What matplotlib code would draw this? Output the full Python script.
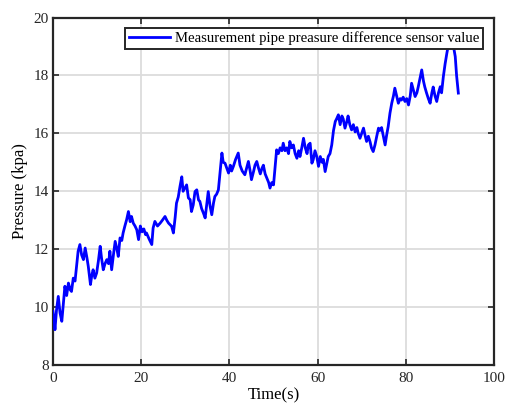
import matplotlib
matplotlib.use("Agg")
import matplotlib.pyplot as plt

time_s = [0.0, 0.3, 0.45, 0.8, 1.2, 1.6, 2.0, 2.4, 2.7, 3.1, 3.5, 3.9, 4.2, 4.6, 5.0, 5.4,
          5.7, 6.1, 6.5, 6.9, 7.3, 7.7, 8.0, 8.5, 8.8, 9.1, 9.5, 9.9, 10.3, 10.7, 11.0,
          11.4, 11.8, 12.2, 12.6, 12.9, 13.3, 13.7, 14.1, 14.5, 14.8, 15.2, 15.6, 15.9,
          16.3, 16.7, 17.1, 17.5, 17.8, 18.2, 18.6, 19.0, 19.4, 19.8, 20.2, 20.6, 21.0,
          21.2, 21.8, 22.4, 22.7, 23.1, 23.7, 24.3, 24.8, 25.4, 25.8, 26.2, 26.9, 27.3,
          27.7, 28.0, 28.4, 28.8, 29.2, 29.5, 29.9, 30.3, 30.7, 31.1, 31.4, 31.8, 32.2,
          32.6, 33.0, 33.3, 33.7, 34.1, 34.5, 34.9, 35.2, 35.6, 36.0, 36.4, 36.7, 37.1,
          37.5, 37.9, 38.3, 38.6, 39.0, 39.4, 39.8, 40.2, 40.5, 40.9, 41.4, 42.0, 42.4,
          42.9, 43.5, 43.9, 44.3, 44.7, 45.0, 45.5, 45.8, 46.2, 46.6, 47.0, 47.4, 47.7,
          48.1, 48.5, 48.9, 49.2, 49.6, 50.0, 50.4, 50.7, 51.1, 51.5, 51.9, 52.2, 52.6,
          53.0, 53.4, 53.7, 54.1, 54.5, 54.9, 55.3, 55.7, 56.0, 56.4, 56.8, 57.2, 57.6,
          57.9, 58.3, 58.7, 59.0, 59.4, 59.8, 60.2, 60.6, 61.0, 61.3, 61.7, 62.0, 62.4,
          62.8, 63.2, 63.6, 64.0, 64.3, 64.7, 65.1, 65.5, 65.8, 66.2, 66.6, 66.9, 67.3,
          67.7, 68.1, 68.5, 68.9, 69.2, 69.6, 70.0, 70.4, 70.8, 71.1, 71.5, 71.9, 72.2,
          72.6, 73.0, 73.4, 73.8, 74.1, 74.5, 74.9, 75.3, 75.6, 76.0, 76.4, 76.8, 77.2,
          77.5, 77.9, 78.3, 78.7, 79.0, 79.4, 79.8, 80.2, 80.6, 81.0, 81.3, 81.7, 82.1,
          82.5, 82.8, 83.2, 83.6, 84.0, 84.3, 84.7, 85.1, 85.5, 85.9, 86.2, 86.6, 87.0,
          87.4, 87.8, 88.1, 88.5, 88.9, 89.3, 89.7, 90.1, 90.5, 90.8, 91.2, 91.5, 91.9]
pressure = [9.85, 9.5, 9.22, 9.9, 10.37, 9.8, 9.51, 10.2, 10.72, 10.4, 10.83, 10.6, 10.54,
            11.0, 10.9, 11.5, 11.93, 12.16, 11.8, 11.64, 12.04, 11.7, 11.41, 10.78, 11.1,
            11.29, 11.0, 11.18, 11.6, 12.1, 11.7, 11.29, 11.5, 11.64, 11.5, 11.93, 11.29,
            11.8, 12.27, 12.0, 11.75, 12.39, 12.3, 12.56, 12.8, 13.02, 13.3, 12.95, 13.13,
            12.9, 12.8, 12.67, 12.33, 12.8, 12.6, 12.7, 12.5, 12.56, 12.35, 12.16, 12.73,
            12.96, 12.8, 12.9, 13.0, 13.13, 13.0, 12.9, 12.79, 12.56, 13.1, 13.59, 13.8,
            14.17, 14.5, 14.0, 14.11, 14.22, 13.77, 13.71, 13.3, 13.53, 13.99, 14.05, 13.7,
            13.65, 13.4, 13.25, 13.08, 13.6, 13.99, 13.5, 13.19, 13.6, 13.82, 13.9, 14.05,
            14.7, 15.32, 15.0, 14.97, 14.8, 14.63, 14.9, 14.7, 14.86, 15.1, 15.32, 14.9,
            14.7, 14.57, 14.8, 15.03, 14.7, 14.4, 14.7, 14.9, 15.03, 14.8, 14.6, 14.8, 14.9,
            14.6, 14.45, 14.3, 14.11, 14.3, 14.22, 14.9, 15.43, 15.3, 15.5, 15.4, 15.66,
            15.4, 15.5, 15.3, 15.72, 15.5, 15.6, 15.3, 15.14, 15.4, 15.2, 15.5, 15.83, 15.5,
            15.3, 15.6, 15.66, 14.97, 15.09, 15.4, 15.2, 14.86, 15.2, 15.0, 15.1, 14.68,
            14.9, 15.2, 15.3, 15.6, 16.1, 16.41, 16.5, 16.64, 16.3, 16.6, 16.5, 16.18, 16.4,
            16.6, 16.3, 16.12, 16.3, 16.05, 16.2, 16.0, 15.83, 16.0, 16.18, 15.9, 15.72,
            15.9, 15.7, 15.5, 15.37, 15.6, 15.9, 16.18, 16.1, 16.2, 15.9, 15.6, 15.9, 16.24,
            16.7, 17.04, 17.3, 17.56, 17.3, 17.04, 17.2, 17.15, 17.25, 17.1, 17.2, 16.98,
            17.3, 17.73, 17.5, 17.27, 17.4, 17.6, 17.9, 18.19, 17.8, 17.6, 17.39, 17.2,
            17.04, 17.4, 17.6, 17.3, 17.1, 17.4, 17.61, 17.4, 17.96, 18.4, 18.77, 19.1,
            19.3, 19.2, 19.0, 18.65, 18.0, 17.39]
x_ticks = [0, 20, 40, 60, 80, 100]
y_ticks = [8, 10, 12, 14, 16, 18, 20]

plt.rcParams["font.family"] = ["Liberation Serif", "DejaVu Serif"]

fig = plt.figure(figsize=(5.07, 4.12), dpi=100)
ax = fig.add_axes([0.1045, 0.114, 0.870, 0.8435])

ax.plot(time_s, pressure, color="#0000ff", linewidth=2.0,
        label="Measurement pipe preasure difference sensor value", zorder=3)

ax.set_xlim(0, 100)
ax.set_ylim(8, 20)
ax.set_xticks(x_ticks)
ax.set_yticks(y_ticks)
ax.tick_params(direction="in", length=4, width=1.2, top=True, right=True,
               labelsize=11, colors="#262626")
ax.tick_params(axis="x", pad=5)
ax.tick_params(axis="y", pad=3)
ax.grid(True, color="#dcdcdc", linewidth=1.3)
ax.set_axisbelow(True)
for s in ax.spines.values():
    s.set_linewidth(1.6)
    s.set_color("#262626")

ax.set_xlabel("Time(s)", fontsize=12, labelpad=2)
ax.set_ylabel("Pressure (kpa)", fontsize=12, labelpad=4)

leg = ax.legend(loc="upper right", bbox_to_anchor=(0.975, 0.97), borderaxespad=0,
                fancybox=False, framealpha=1, edgecolor="#262626", fontsize=10.6,
                handlelength=2.8, handletextpad=0.35, borderpad=0.25)
leg.get_frame().set_linewidth(1.4)
leg.set_zorder(5)

fig.savefig("out.png", dpi=100)
